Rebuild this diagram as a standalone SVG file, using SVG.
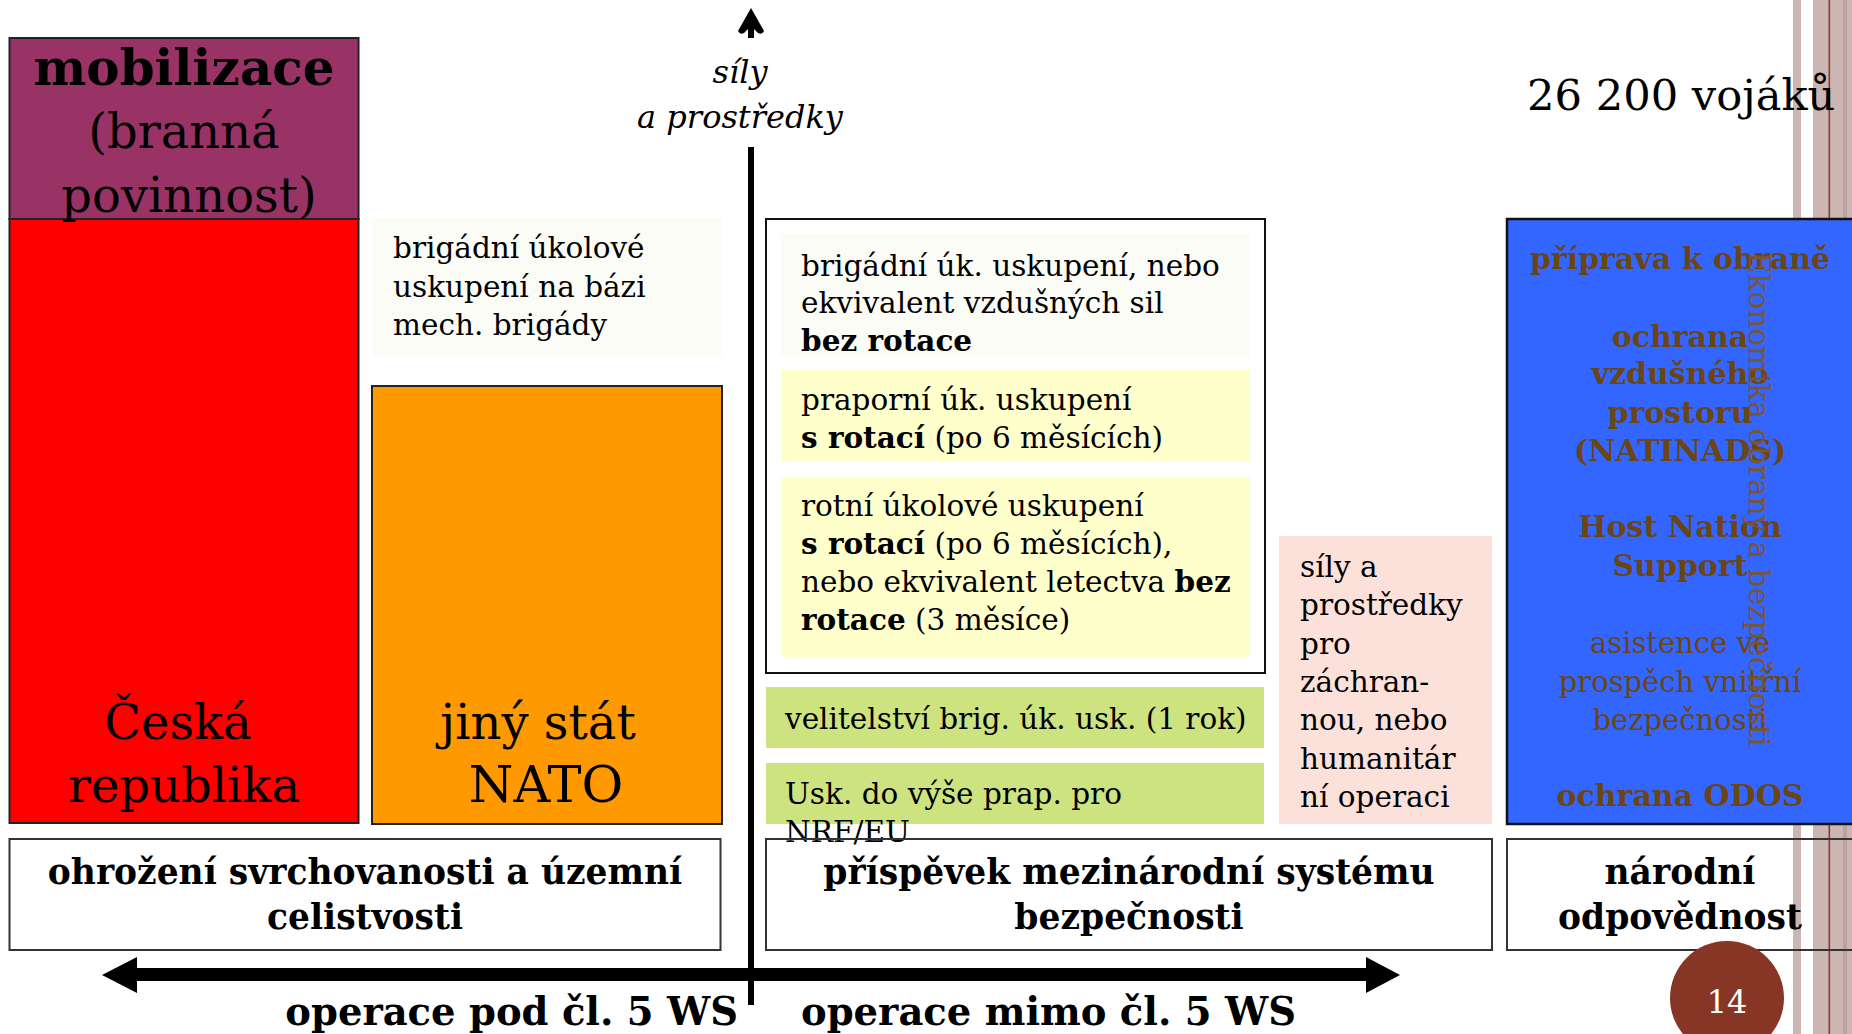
<svg xmlns="http://www.w3.org/2000/svg" width="1852" height="1034" viewBox="0 0 1852 1034">
<style>
text{font-family:"DejaVu Serif","Liberation Serif",serif;fill:#000}
.b{font-weight:bold}
.t{font-size:29.5px}
.big{font-size:48px}
.lbl{font-size:34.5px;font-weight:bold;text-anchor:middle}
.blue{font-size:29px;fill:#6B4513;text-anchor:middle}
.blue.b{font-size:30px}
.box{stroke:#222;stroke-width:2}
.stripe{fill:#CBB6B4}
</style>
<rect width="1852" height="1034" fill="#fff"/>
<g id="decor">
<rect class="stripe" x="1793" y="0" width="8" height="1034"/>
<rect class="stripe" x="1813" y="0" width="39" height="1034"/>
<rect x="1843" y="0" width="4" height="1034" fill="#BCA19D"/>
<rect x="1828.5" y="0" width="1.6" height="1034" fill="#8B3A2A"/>
</g>
<g id="total">
<text x="1527" y="110" style="font-size:43.2px">26 200 vojáků</text>
</g>
<g id="mobilizace">
<rect class="box" x="9.5" y="38" width="349" height="181" fill="#993366"/>
</g>
<g id="ceska-republika">
<rect class="box" x="9.5" y="219" width="349" height="604" fill="#FF0000"/>
<text class="big" x="178" y="739" text-anchor="middle">Česká</text>
<text class="big" x="184" y="802" text-anchor="middle">republika</text>
</g>
<g id="mobilizace-text">
<text class="b" x="184" y="85" text-anchor="middle" style="font-size:50px">mobilizace</text>
<text class="big" x="184" y="148" text-anchor="middle">(branná</text>
<text class="big" x="189" y="212" text-anchor="middle">povinnost)</text>
</g>
<g id="brig-mech">
<rect x="372" y="218" width="350" height="138" fill="#FCFCF7"/>
<text class="t" x="393" y="258">brigádní úkolové</text>
<text class="t" x="393" y="297">uskupení na bázi</text>
<text class="t" x="393" y="335">mech. brigády</text>
</g>
<g id="jiny-stat">
<rect class="box" x="372" y="386" width="350" height="438" fill="#FF9900"/>
<text class="big" x="538" y="739" text-anchor="middle">jiný stát</text>
<text x="546" y="802" text-anchor="middle" style="font-size:51px">NATO</text>
</g>
<g id="frame">
<rect x="766" y="219" width="499" height="454" fill="#fff" stroke="#111" stroke-width="2"/>
</g>
<g id="brig-vzdus">
<rect x="781" y="234" width="469" height="123" fill="#FCFCF7"/>
<text class="t" x="801" y="276">brigádní úk. uskupení, nebo</text>
<text class="t" x="801" y="313">ekvivalent vzdušných sil</text>
<text class="t b" x="801" y="351">bez rotace</text>
</g>
<g id="prapor">
<rect x="781" y="370" width="469" height="91" fill="#FFFFCC"/>
<text class="t" x="801" y="410">praporní úk. uskupení</text>
<text class="t" x="801" y="448"><tspan class="b">s rotací</tspan> (po 6 měsících)</text>
</g>
<g id="rota">
<rect x="781" y="477" width="469" height="180" fill="#FFFFCC"/>
<text class="t" x="801" y="516">rotní úkolové uskupení</text>
<text class="t" x="801" y="554"><tspan class="b">s rotací</tspan> (po 6 měsících),</text>
<text class="t" x="801" y="592">nebo ekvivalent letectva <tspan class="b">bez</tspan></text>
<text class="t" x="801" y="630"><tspan class="b">rotace</tspan> (3 měsíce)</text>
</g>
<g id="velitelstvi">
<rect x="766" y="687" width="498" height="61" fill="#CCE380"/>
<text class="t" x="785" y="729">velitelství brig. úk. usk. (1 rok)</text>
</g>
<g id="nrf">
<rect x="766" y="763" width="498" height="61" fill="#CCE380"/>
<text class="t" x="785" y="804">Usk. do výše prap. pro</text>
<text class="t" x="785" y="842">NRF/EU</text>
</g>
<g id="zachranne">
<rect x="1279" y="536" width="213" height="288" fill="#FCE1DB"/>
<text class="t" x="1300" y="577">síly a</text>
<text class="t" x="1300" y="615">prostředky</text>
<text class="t" x="1300" y="654">pro</text>
<text class="t" x="1300" y="692">záchran-</text>
<text class="t" x="1300" y="730">nou, nebo</text>
<text class="t" x="1300" y="769">humanitár</text>
<text class="t" x="1300" y="807">ní operaci</text>
</g>
<g id="narodni-ukoly">
<rect x="1507" y="219" width="352" height="605" fill="#3366FF" stroke="#111" stroke-width="2.5"/>
<text class="blue b" x="1680" y="269">příprava k obraně</text>
<text class="blue b" x="1680" y="347">ochrana</text>
<text class="blue b" x="1680" y="384">vzdušného</text>
<text class="blue b" x="1680" y="423">prostoru</text>
<text class="blue b" x="1680" y="461">(NATINADS)</text>
<text class="blue b" x="1680" y="537">Host Nation</text>
<text class="blue b" x="1680" y="576">Support</text>
<text class="blue" x="1680" y="653">asistence ve</text>
<text class="blue" x="1680" y="692">prospěch vnitřní</text>
<text class="blue" x="1680" y="730">bezpečnosti</text>
<text class="blue b" x="1680" y="806">ochrana ODOS</text>
<text x="1749" y="252" transform="rotate(90 1749 252)" style="font-size:29.5px;fill:#7A5530">Ekonomika obrany a bezpečnosti</text>
</g>
<g id="ohrozeni">
<rect x="9.5" y="839" width="711" height="111" fill="#fff" stroke="#333" stroke-width="2"/>
<text class="lbl" x="365" y="884">ohrožení svrchovanosti a územní</text>
<text class="lbl" x="365" y="929">celistvosti</text>
</g>
<g id="prispevek">
<rect x="766" y="839" width="726" height="111" fill="none" stroke="#333" stroke-width="2"/>
<text class="lbl" x="1129" y="884">příspěvek mezinárodní systému</text>
<text class="lbl" x="1129" y="929">bezpečnosti</text>
</g>
<g id="narodni">
<rect x="1507" y="839" width="360" height="111" fill="none" stroke="#333" stroke-width="2"/>
<text class="lbl" x="1680" y="884">národní</text>
<text class="lbl" x="1680" y="929">odpovědnost</text>
</g>
<g id="connectors">
<line x1="751" y1="147" x2="751" y2="1005" stroke="#000" stroke-width="6"/>
<rect x="748" y="22" width="6" height="16" fill="#000"/>
<path d="M751,8 L764,31 Q762,35 758,33 L751,26 L744,33 Q740,35 738,31 Z" fill="#000"/>
<polygon points="102,975 137,957 137,968 1366,968 1366,957 1400,975 1366,993 1366,981 137,981 137,993" fill="#000"/>
</g>
<g id="axis-labels">
<text x="740" y="83" text-anchor="middle" style="font-size:32px;font-style:italic">síly</text>
<text x="740" y="128" text-anchor="middle" style="font-size:32px;font-style:italic">a prostředky</text>
<text class="b" x="738" y="1025" text-anchor="end" style="font-size:38.5px">operace pod čl. 5 WS</text>
<text class="b" x="801" y="1025" style="font-size:38.5px">operace mimo čl. 5 WS</text>
</g>
<g id="page-number">
<circle cx="1727" cy="998" r="57" fill="#873524"/>
<text x="1727" y="1013" text-anchor="middle" style="font-size:32px;fill:#fff">14</text>
</g>
</svg>
